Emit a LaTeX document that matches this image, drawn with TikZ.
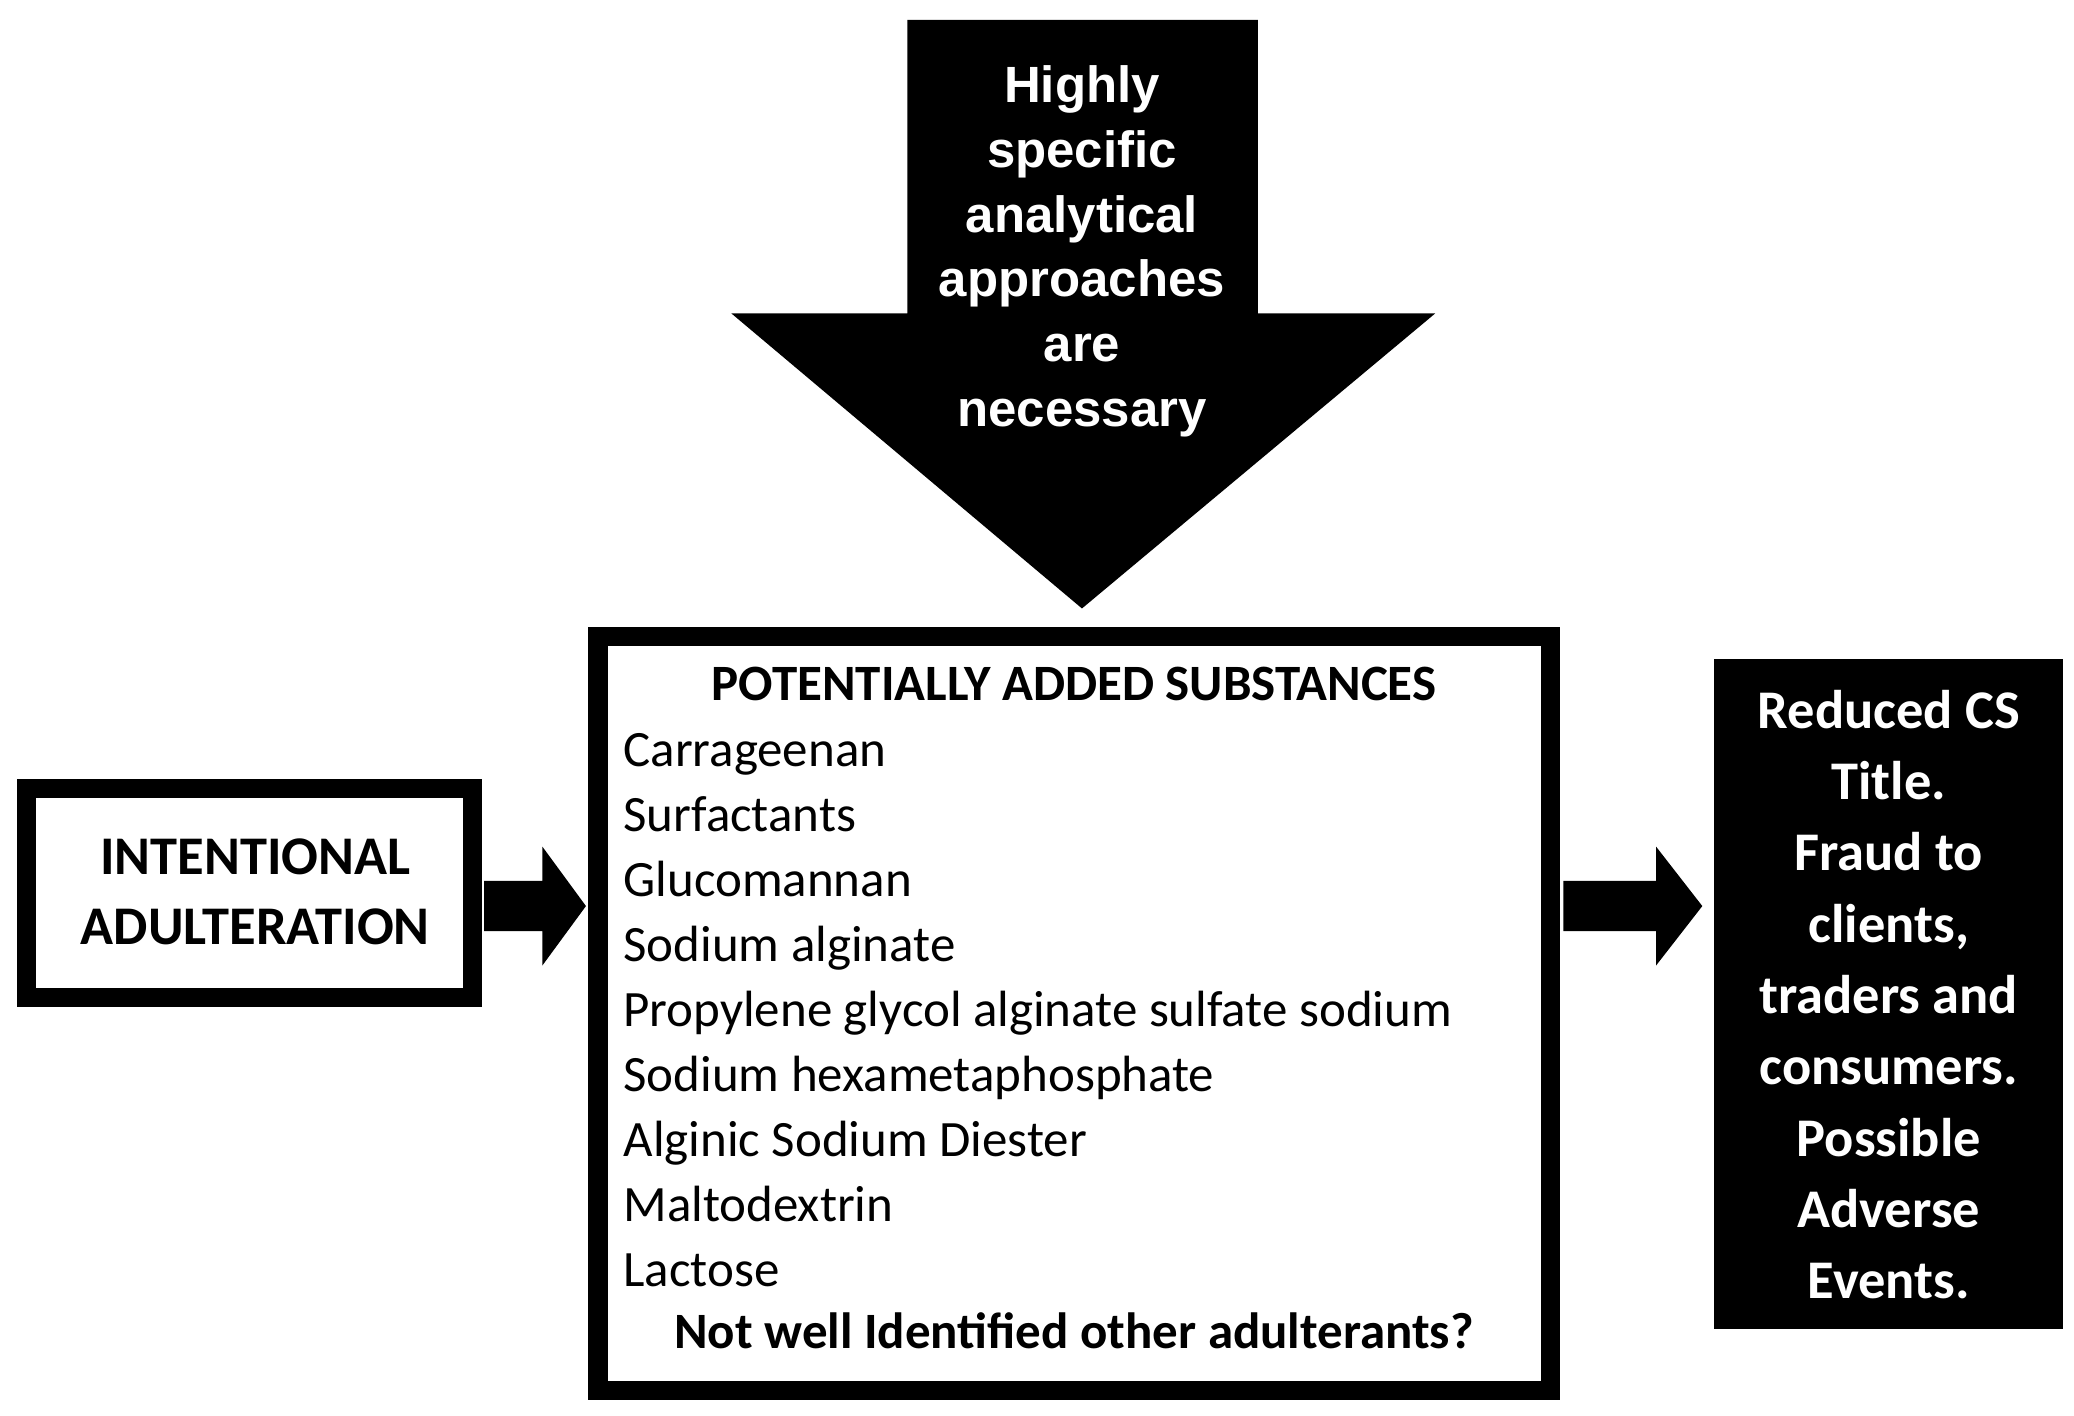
\documentclass[tikz,border=0pt]{standalone}
\usepackage{fontspec}
\setmainfont{Carlito}
\newfontfamily\arialf{Liberation Sans}
\begin{document}
\begin{tikzpicture}[x=0.013227cm,y=-0.013227cm,
  thickbox/.style={draw=black,line width=8pt,fill=white},
  blk/.style={fill=black}]
\useasboundingbox (0,0) rectangle (1568,1070);
% big down arrow
\fill[black] (686,15) -- (951,15) -- (951,237) -- (1085,237) -- (818,460) -- (553,237) -- (686,237) -- cycle;
\node[text=white,font=\arialf\bfseries\fontsize{14.5}{18.4}\selectfont,align=center] (arrtxt) at (818,190) {Highly\\specific\\analytical\\approaches\\are\\necessary};
% center box
\draw[line width=5.5pt] (452,481) rectangle (1172,1051);
\node[font=\bfseries\fontsize{14.5}{18.5}\selectfont] (title) at (812,517) {POTENTIALLY ADDED SUBSTANCES};
\node[font=\fontsize{14.5}{18.5}\selectfont,align=left,anchor=north west] (list) at (462,545) {Carrageenan\\Surfactants\\Glucomannan\\Sodium alginate\\Propylene glycol alginate sulfate sodium\\Sodium hexametaphosphate\\Alginic Sodium Diester\\Maltodextrin\\Lactose};
\node[font=\bfseries\fontsize{14.5}{18.5}\selectfont] (other) at (812,1006) {Not well Identified other adulterants?};
% left box
\draw[line width=5.5pt] (20,596) rectangle (357,754);
\node[font=\bfseries\fontsize{15.5}{20}\selectfont,align=center] (left) at (193,674) {INTENTIONAL\\ADULTERATION};
% right box
\fill[black] (1296,498) rectangle (1560,1005);
\node[text=white,font=\bfseries\fontsize{15.5}{20.3}\selectfont,align=center] (right) at (1428,752) {Reduced CS\\Title.\\Fraud to\\clients,\\traders and\\consumers.\\Possible\\Adverse\\Events.};
% small arrows
\coordinate (la) at (366,685); \coordinate (lb) at (443,685);
\fill[black] (366,666) -- (410,666) -- (410,640) -- (443,685) -- (410,730) -- (410,704) -- (366,704) -- cycle;
\fill[black] (1182,666) -- (1252,666) -- (1252,640) -- (1287,685) -- (1252,730) -- (1252,704) -- (1182,704) -- cycle;
\end{tikzpicture}
\end{document}
